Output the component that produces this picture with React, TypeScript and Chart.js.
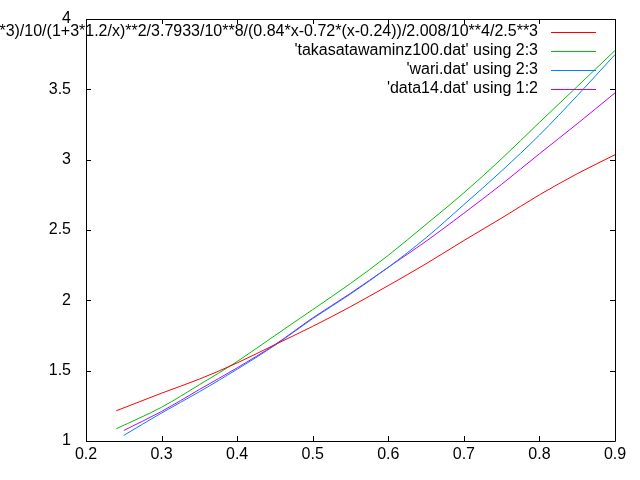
import { useEffect, useRef } from "react";
import { Chart, registerables } from "chart.js";

Chart.register(...registerables);

const xTicks = [0.2, 0.3, 0.4, 0.5, 0.6, 0.7, 0.8, 0.9];
const xTickLabels = ["0.2", "0.3", "0.4", "0.5", "0.6", "0.7", "0.8", "0.9"];
const yTicks = [1, 1.5, 2, 2.5, 3, 3.5, 4];
const yTickLabels = ["1", "1.5", "2", "2.5", "3", "3.5", "4"];

const seriesLabels = [
  "(2*3.14*1.5*10**3)/10/(1+3*1.2/x)**2/3.7933/10**8/(0.84*x-0.72*(x-0.24))/2.008/10**4/2.5**3",
  "'takasatawaminz100.dat' using 2:3",
  "'wari.dat' using 2:3",
  "'data14.dat' using 1:2",
];
const seriesColors = ["#ff0000", "#00c000", "#0080ff", "#c000ff"];

const funcX = [0.24, 0.3, 0.35, 0.4, 0.45, 0.5, 0.55, 0.6, 0.65, 0.7, 0.75, 0.8, 0.85, 0.9];
const funcY = [1.215, 1.34, 1.44, 1.555, 1.685, 1.815, 1.955, 2.105, 2.26, 2.425, 2.585, 2.75, 2.9, 3.035];

const takasaX = [0.24, 0.3, 0.35, 0.4, 0.45, 0.5, 0.55, 0.6, 0.65, 0.7, 0.75, 0.8, 0.85, 0.9];
const takasaY = [1.087, 1.24, 1.4, 1.565, 1.75, 1.934, 2.12, 2.32, 2.54, 2.764, 3.007, 3.265, 3.52, 3.776];

const wariX = [0.25, 0.3, 0.35, 0.4, 0.45, 0.5, 0.55, 0.6, 0.65, 0.7, 0.75, 0.8, 0.85, 0.9];
const wariY = [1.04, 1.199, 1.35, 1.51, 1.68, 1.87, 2.045, 2.235, 2.445, 2.68, 2.92, 3.175, 3.455, 3.747];

const data14X = [0.25, 0.3, 0.35, 0.4, 0.45, 0.5, 0.55, 0.6, 0.65, 0.7, 0.75, 0.8, 0.85, 0.9];
const data14Y = [1.075, 1.21, 1.366, 1.52, 1.685, 1.875, 2.05, 2.235, 2.42, 2.619, 2.825, 3.042, 3.255, 3.475];

const FONT = "'Liberation Sans', Arial, sans-serif";
const FONT_SIZE = 16;

const toPoints = (xs: number[], ys: number[]) => xs.map((x, i) => ({ x, y: ys[i] }));

const framePlugin = {
  id: "gnuFrame",
  afterDatasetsDraw(chart: any) {
    const { ctx, chartArea } = chart;
    const xs = chart.scales.x;
    const ys = chart.scales.y;
    const { left, right, top, bottom } = chartArea;
    const t = 5;
    ctx.save();
    ctx.strokeStyle = "#000";
    ctx.lineWidth = 1;
    ctx.beginPath();
    ctx.rect(Math.round(left) + 0.5, Math.round(top) + 0.5, Math.round(right - left), Math.round(bottom - top));
    xTicks.forEach((v) => {
      const p = Math.round(xs.getPixelForValue(v)) + 0.5;
      ctx.moveTo(p, bottom);
      ctx.lineTo(p, bottom - t);
      ctx.moveTo(p, top);
      ctx.lineTo(p, top + t);
    });
    yTicks.forEach((v) => {
      const p = Math.round(ys.getPixelForValue(v)) + 0.5;
      ctx.moveTo(left, p);
      ctx.lineTo(left + t, p);
      ctx.moveTo(right, p);
      ctx.lineTo(right - t, p);
    });
    ctx.stroke();

    // legend (gnuplot key, top right, text right-aligned)
    ctx.font = `${FONT_SIZE}px ${FONT}`;
    ctx.textAlign = "right";
    ctx.textBaseline = "middle";
    seriesLabels.forEach((label, i) => {
      const y = Math.round(top + 13 + i * 19);
      ctx.fillStyle = "#000";
      ctx.fillText(label, right - 77, y);
      ctx.fillStyle = seriesColors[i];
      ctx.fillRect(Math.round(right - 64), y, 45, 1);
    });
    ctx.restore();
  },
};

const noPad = (s: any) => {
  s.paddingTop = 0;
  s.paddingBottom = 0;
  s.paddingLeft = 0;
  s.paddingRight = 0;
};

export default function App() {
  const ref = useRef<HTMLCanvasElement>(null);
  useEffect(() => {
    if (!ref.current) return;
    const mk = (i: number, xs: number[], ys: number[]) => ({
      label: seriesLabels[i],
      data: toPoints(xs, ys),
      borderColor: seriesColors[i],
      backgroundColor: seriesColors[i],
      borderWidth: 1,
      pointRadius: 0,
      cubicInterpolationMode: "monotone" as const,
      fill: false,
    });
    const chart = new Chart(ref.current, {
      type: "line",
      data: {
        datasets: [
          mk(0, funcX, funcY),
          mk(1, takasaX, takasaY),
          mk(2, wariX, wariY),
          mk(3, data14X, data14Y),
        ],
      },
      options: {
        animation: false,
        responsive: false,
        maintainAspectRatio: false,
        devicePixelRatio: 1,
        layout: { padding: { top: 19, right: 25, left: 0, bottom: 0 } },
        plugins: { legend: { display: false }, tooltip: { enabled: false } },
        scales: {
          x: {
            type: "linear",
            min: 0.2,
            max: 0.9,
            grid: { display: false, drawTicks: false },
            border: { display: false },
            afterBuildTicks: (s: any) => {
              s.ticks = xTicks.map((v) => ({ value: v }));
            },
            afterFit: (s: any) => {
              s.height = 39;
              noPad(s);
            },
            ticks: {
              autoSkip: false,
              maxRotation: 0,
              padding: 4,
              color: "#000",
              font: { family: FONT, size: FONT_SIZE },
              callback: (_v: any, i: number) => xTickLabels[i],
            },
          },
          y: {
            type: "linear",
            min: 1,
            max: 4,
            grid: { display: false, drawTicks: false },
            border: { display: false },
            afterBuildTicks: (s: any) => {
              s.ticks = yTicks.map((v) => ({ value: v }));
            },
            afterFit: (s: any) => {
              s.width = 86;
              noPad(s);
            },
            ticks: {
              autoSkip: false,
              padding: 15,
              color: "#000",
              font: { family: FONT, size: FONT_SIZE },
              callback: (_v: any, i: number) => yTickLabels[i],
            },
          },
        },
      },
      plugins: [framePlugin],
    });
    return () => chart.destroy();
  }, []);
  return (
    <div style={{ position: "absolute", left: 0, top: 0, width: 640, height: 480, background: "#fff" }}>
      <canvas ref={ref} width={640} height={480} style={{ width: 640, height: 480 }} />
    </div>
  );
}
